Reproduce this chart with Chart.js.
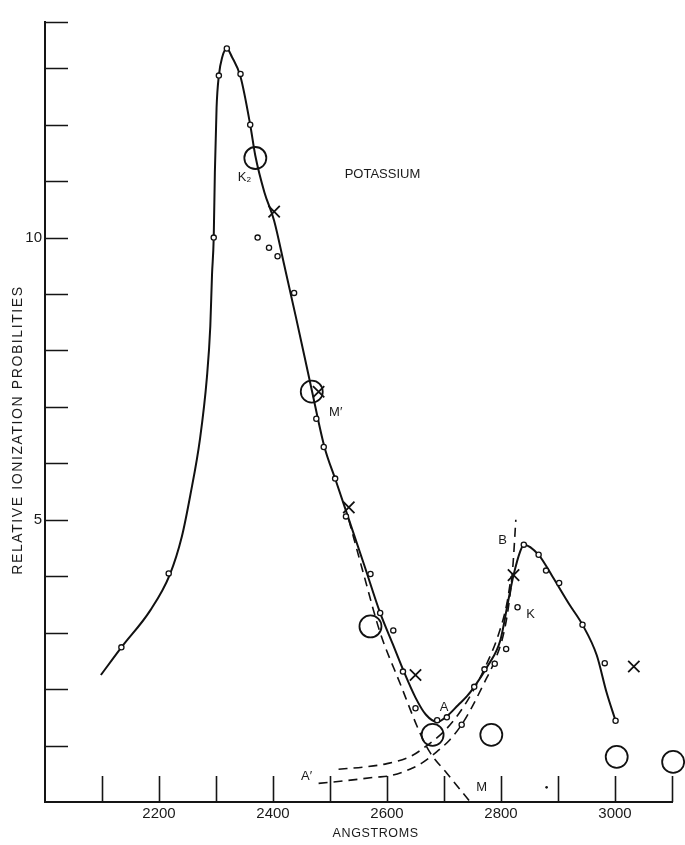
<!DOCTYPE html>
<html>
<head>
<meta charset="utf-8">
<script src="https://cdn.jsdelivr.net/npm/chart.js@4.4.1/dist/chart.umd.min.js"></script>
<style>
  html, body { margin: 0; padding: 0; background: #fff; }
  #wrap { width: 685px; height: 845px; }
</style>
</head>
<body>
<div id="wrap"><canvas id="potassiumChart" width="685" height="845"></canvas></div>
<script>
// main solid curve (hand drawn fit)
var curveX = [2098, 2134, 2185, 2219, 2240, 2255, 2272, 2284, 2290, 2293, 2296, 2298, 2301, 2305, 2311, 2319, 2328, 2343, 2360, 2369, 2385, 2402, 2420, 2440, 2468, 2490, 2510, 2530, 2560, 2588, 2610, 2630, 2650, 2668, 2688, 2705, 2725, 2740, 2753, 2776, 2799, 2813, 2822, 2834, 2840, 2866, 2890, 2920, 2943, 2968, 2985, 3001];
var curveY = [2.25, 2.74, 3.4, 4.03, 4.7, 5.44, 6.44, 7.52, 8.43, 9.34, 10.0, 11.15, 12.3, 12.87, 13.2, 13.35, 13.2, 12.85, 12.0, 11.45, 10.8, 10.3, 9.5, 8.6, 7.3, 6.3, 5.7, 5.1, 4.2, 3.35, 2.8, 2.3, 1.85, 1.55, 1.42, 1.52, 1.72, 1.87, 2.04, 2.4, 2.87, 3.58, 4.02, 4.45, 4.56, 4.38, 4.0, 3.5, 3.14, 2.6, 1.95, 1.44];

// dashed curves
var dashMX = [2533, 2560, 2588, 2623, 2658, 2676, 2705, 2746];
var dashMY = [5.0, 4.0, 3.0, 2.1, 1.22, 0.87, 0.51, 0.0];
var dashA1X = [2480, 2530, 2580, 2603, 2640, 2661, 2685, 2710, 2731, 2750, 2770, 2789, 2805, 2815, 2821, 2826];
var dashA1Y = [0.33, 0.38, 0.44, 0.46, 0.58, 0.69, 0.87, 1.1, 1.37, 1.7, 2.1, 2.5, 3.0, 3.6, 4.2, 5.0];
var dashA2X = [2515, 2560, 2600, 2640, 2670, 2700, 2725, 2750, 2775, 2795, 2810, 2818];
var dashA2Y = [0.58, 0.62, 0.68, 0.8, 1.0, 1.25, 1.55, 1.95, 2.45, 2.95, 3.5, 4.0];

// measured points
var smallX = [2134, 2217, 2296, 2305, 2319, 2343, 2360, 2373, 2393, 2408, 2437, 2476, 2489, 2509, 2528, 2571, 2588, 2611, 2628, 2650, 2688, 2705, 2731, 2753, 2771, 2789, 2809, 2829, 2840, 2866, 2879, 2902, 2943, 2982, 3001];
var smallY = [2.74, 4.05, 10.0, 12.87, 13.35, 12.9, 12.0, 10.0, 9.82, 9.67, 9.02, 6.79, 6.29, 5.73, 5.06, 4.04, 3.35, 3.04, 2.31, 1.66, 1.45, 1.5, 1.37, 2.04, 2.35, 2.45, 2.71, 3.45, 4.56, 4.38, 4.1, 3.88, 3.14, 2.46, 1.44];
var crossX = [2402, 2480, 2533, 2650, 2822, 3033];
var crossY = [10.46, 7.27, 5.22, 2.25, 4.02, 2.4];
var bigX = [2369, 2468, 2571, 2680, 2783, 3003, 3102];
var bigY = [11.41, 7.27, 3.11, 1.19, 1.19, 0.8, 0.71];
var dotX = [2880];
var dotY = [0.26];

// axes
var xTickValues = [2100, 2200, 2300, 2400, 2500, 2600, 2700, 2800, 2900, 3000, 3100];
var xTickLabels = [2200, 2400, 2600, 2800, 3000];
var yTickValues = [1, 2, 3, 4, 5, 6, 7, 8, 9, 10, 11, 12, 13, 13.82];
var yTickLabels = [5, 10];
var xTitle = 'ANGSTROMS';
var yTitle = 'RELATIVE IONIZATION PROBILITIES';

// annotations
var noteText = ['POTASSIUM', 'K\u2082', 'M\u2032', 'A', 'A\u2032', 'M', 'K', 'B'];
var noteX = [2592, 2350, 2510, 2700, 2459, 2766, 2852, 2803];
var noteY = [11.12, 11.06, 6.91, 1.67, 0.46, 0.26, 3.32, 4.63];

var FONT = '"Liberation Sans", Arial, sans-serif';

function zip(xs, ys) {
    var out = [];
    for (var i = 0; i < xs.length; i++) out.push({x: xs[i], y: ys[i]});
    return out;
}

// ticks are drawn inward like on the original plot
var inwardTicks = {
    id: 'inwardTicks',
    afterDatasetsDraw: function(chart) {
        var ctx = chart.ctx;
        var xs = chart.scales.x, ys = chart.scales.y;
        var area = chart.chartArea;
        ctx.save();
        ctx.strokeStyle = '#151515';
        ctx.lineWidth = 1.6;
        ctx.beginPath();
        xTickValues.forEach(function(v) {
            var px = Math.round(xs.getPixelForValue(v)) + 0.5;
            ctx.moveTo(px, area.bottom);
            ctx.lineTo(px, area.bottom - 26);
        });
        yTickValues.forEach(function(v) {
            var py = Math.round(ys.getPixelForValue(v)) + 0.5;
            ctx.moveTo(area.left, py);
            ctx.lineTo(area.left + 23, py);
        });
        ctx.stroke();
        ctx.restore();
    }
};

// text on the plot and the two axis titles
var notes = {
    id: 'notes',
    afterDatasetsDraw: function(chart) {
        var ctx = chart.ctx;
        var xs = chart.scales.x, ys = chart.scales.y;
        ctx.save();
        ctx.fillStyle = '#1a1a1a';
        ctx.textAlign = 'center';
        ctx.textBaseline = 'middle';
        for (var i = 0; i < noteText.length; i++) {
            ctx.font = '13px ' + FONT;
            ctx.fillText(noteText[i], xs.getPixelForValue(noteX[i]), ys.getPixelForValue(noteY[i]));
        }

        ctx.font = '12.5px ' + FONT;
        ctx.letterSpacing = '0.6px';
        ctx.fillText(xTitle, xs.getPixelForValue(2580), 834);

        ctx.translate(18, 430);
        ctx.rotate(-Math.PI / 2);
        ctx.font = '14px ' + FONT;
        ctx.letterSpacing = '1.6px';
        ctx.fillText(yTitle, 0, 0);
        ctx.restore();
    }
};

var ctx = document.getElementById('potassiumChart').getContext('2d');

var myChart = new Chart(ctx, {
    type: 'scatter',
    data: {
        datasets: [
            {
                label: 'dot',
                data: zip(dotX, dotY),
                pointStyle: 'circle',
                pointRadius: 1.3,
                backgroundColor: '#111',
                borderColor: '#111',
                borderWidth: 0,
                order: 0,
                clip: false
            },
            {
                label: 'points',
                data: zip(smallX, smallY),
                pointStyle: 'circle',
                pointRadius: 2.6,
                backgroundColor: '#fff',
                borderColor: '#111',
                borderWidth: 1.3,
                order: 0,
                clip: false
            },
            {
                label: 'crosses',
                data: zip(crossX, crossY),
                pointStyle: 'crossRot',
                pointRadius: 8,
                borderColor: '#111',
                borderWidth: 1.8,
                order: 0,
                clip: false
            },
            {
                label: 'circles',
                data: zip(bigX, bigY),
                pointStyle: 'circle',
                pointRadius: 11,
                backgroundColor: 'rgba(0,0,0,0)',
                borderColor: '#111',
                borderWidth: 1.8,
                order: 0,
                clip: false
            },
            {
                label: 'curve',
                type: 'line',
                data: zip(curveX, curveY),
                showLine: true,
                borderColor: '#111',
                borderWidth: 2,
                pointRadius: 0,
                cubicInterpolationMode: 'monotone',
                fill: false,
                order: 1,
                clip: false
            },
            {
                label: 'M',
                type: 'line',
                data: zip(dashMX, dashMY),
                showLine: true,
                borderColor: '#111',
                borderWidth: 1.6,
                borderDash: [9, 6],
                pointRadius: 0,
                cubicInterpolationMode: 'monotone',
                fill: false,
                order: 1
            },
            {
                label: 'A1',
                type: 'line',
                data: zip(dashA1X, dashA1Y),
                showLine: true,
                borderColor: '#111',
                borderWidth: 1.6,
                borderDash: [9, 6],
                pointRadius: 0,
                cubicInterpolationMode: 'monotone',
                fill: false,
                order: 1
            },
            {
                label: 'A2',
                type: 'line',
                data: zip(dashA2X, dashA2Y),
                showLine: true,
                borderColor: '#111',
                borderWidth: 1.6,
                borderDash: [9, 6],
                pointRadius: 0,
                cubicInterpolationMode: 'monotone',
                fill: false,
                order: 1
            }
        ]
    },
    options: {
        responsive: false,
        animation: false,
        events: [],
        layout: { padding: { top: 22, right: 13, left: 0, bottom: 0 } },
        plugins: {
            legend: { display: false },
            tooltip: { enabled: false }
        },
        scales: {
            x: {
                type: 'linear',
                min: 2000,
                max: 3100,
                grid: { display: false, drawTicks: false },
                border: { display: true, color: '#151515', width: 2 },
                afterFit: function(s) { s.height = 43; },
                ticks: {
                    stepSize: 100,
                    autoSkip: false,
                    maxRotation: 0,
                    padding: 3,
                    color: '#1a1a1a',
                    font: { family: FONT, size: 15 },
                    callback: function(v) { return xTickLabels.indexOf(v) >= 0 ? String(v) : ''; }
                }
            },
            y: {
                type: 'linear',
                min: 0,
                max: 13.82,
                grid: { display: false, drawTicks: false },
                border: { display: true, color: '#151515', width: 2 },
                afterFit: function(s) { s.width = 45; },
                ticks: {
                    stepSize: 1,
                    autoSkip: false,
                    padding: 3,
                    color: '#1a1a1a',
                    font: { family: FONT, size: 15 },
                    callback: function(v) { return yTickLabels.indexOf(v) >= 0 ? String(v) : ''; }
                }
            }
        }
    },
    plugins: [inwardTicks, notes]
});
</script>
</body>
</html>
